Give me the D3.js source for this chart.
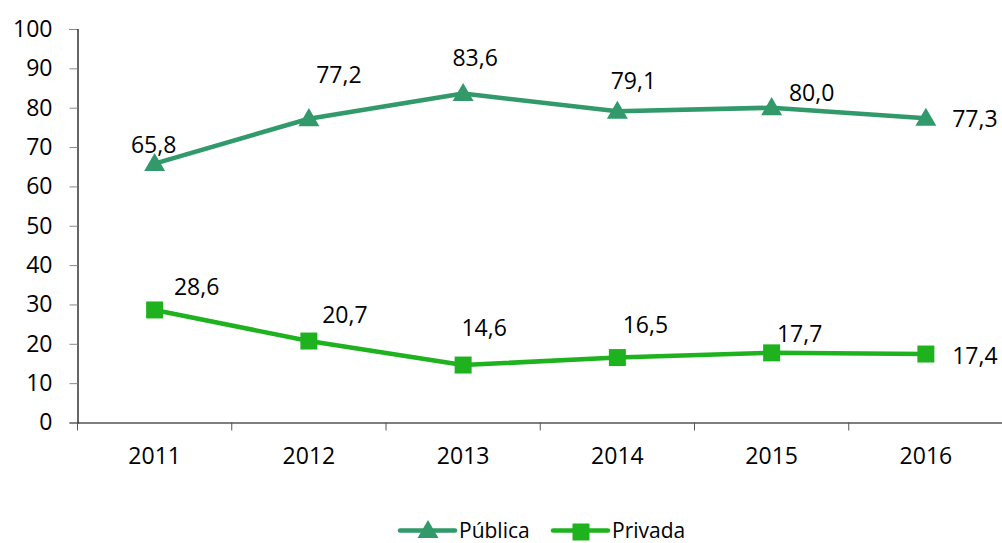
<!DOCTYPE html>
<html>
<head>
<meta charset="utf-8">
<script src="https://cdn.jsdelivr.net/npm/d3@7"></script>
<style>
  html, body { margin: 0; padding: 0; background: #fff; }
  svg { display: block; font-family: "Open Sans", "Liberation Sans", sans-serif; }
</style>
</head>
<body>
<svg id="chart" width="1002" height="543"></svg>
<script>
// Series data
const years = ["2011", "2012", "2013", "2014", "2015", "2016"];
const publica = [65.8, 77.2, 83.6, 79.1, 80.0, 77.3];
const privada = [28.6, 20.7, 14.6, 16.5, 17.7, 17.4];
const yTicks = [0, 10, 20, 30, 40, 50, 60, 70, 80, 90, 100];
const seriesNames = ["Pública", "Privada"];

// Value label offsets (px) relative to each point
const publicaLabelOffset = [[-1, -19], [30, -44], [12, -36], [16, -31], [40, -15], [49, 0]];
const privadaLabelOffset = [[42, -23], [36, -26], [21, -37], [28, -33], [28, -19], [49, 2]];

const colors = { publica: "#31996A", privada: "#1FB21F" };
const FONT = "'Open Sans', 'Liberation Sans', sans-serif";
const FS = 23;

(function () {
const svg = d3.select("#chart");
const plotLeft = 77.5, plotRight = 1003, plotTop = 29, plotBottom = 422.5;

const x = d3.scaleBand().domain(years).range([plotLeft, plotRight]).paddingInner(0).paddingOuter(0);
const y = d3.scaleLinear().domain([0, 100]).range([plotBottom, plotTop]);

const fmt = v => d3.format(".1f")(v).replace(".", ",");

// Y axis
const yAxis = svg.append("g").attr("transform", `translate(${plotLeft},0)`)
  .call(d3.axisLeft(y).tickValues(yTicks).tickSize(8).tickPadding(17));
yAxis.select(".domain").attr("stroke", "#000").attr("stroke-width", 1.2);
yAxis.selectAll(".tick line").attr("stroke", "#888");
yAxis.selectAll(".tick text").attr("font-size", FS).attr("fill", "#000").attr("font-family", FONT);

// X axis
const xAxis = svg.append("g").attr("transform", `translate(0,${plotBottom})`)
  .call(d3.axisBottom(x).tickSize(0).tickPadding(25));
xAxis.select(".domain").attr("stroke", "#000").attr("stroke-width", 1.2);
xAxis.selectAll(".tick text").attr("font-size", FS).attr("fill", "#000").attr("font-family", FONT);
// Category boundary ticks
const bounds = years.map(d => x(d)).concat([x(years[years.length - 1]) + x.bandwidth()]);
svg.append("g").selectAll("line").data(bounds).join("line")
  .attr("x1", d => d).attr("x2", d => d)
  .attr("y1", plotBottom).attr("y2", plotBottom + 8)
  .attr("stroke", "#555").attr("stroke-width", 1);

const cx = i => x(years[i]) + x.bandwidth() / 2;

const line = d3.line().x((d, i) => cx(i)).y(d => y(d));

const tri = d3.symbol().type(d3.symbolTriangle).size(190);
const sq = d3.symbol().type(d3.symbolSquare).size(289);

// Pública
svg.append("path").datum(publica).attr("d", line)
  .attr("fill", "none").attr("stroke", colors.publica).attr("stroke-width", 4.5)
  .attr("stroke-linejoin", "round");
svg.append("g").selectAll("path").data(publica).join("path")
  .attr("d", tri).attr("fill", colors.publica)
  .attr("transform", (d, i) => `translate(${cx(i)},${y(d) + 1.5})`);

// Privada
svg.append("path").datum(privada).attr("d", line)
  .attr("fill", "none").attr("stroke", colors.privada).attr("stroke-width", 4.5)
  .attr("stroke-linejoin", "round");
svg.append("g").selectAll("path").data(privada).join("path")
  .attr("d", sq).attr("fill", colors.privada)
  .attr("transform", (d, i) => `translate(${cx(i)},${y(d)})`);

// Value labels
function labels(data, offsets) {
  svg.append("g").selectAll("text").data(data).join("text")
    .attr("x", (d, i) => cx(i) + offsets[i][0])
    .attr("y", (d, i) => y(d) + offsets[i][1])
    .attr("dy", "0.36em")
    .attr("text-anchor", "middle")
    .attr("font-size", FS).attr("fill", "#000").attr("font-family", FONT)
    .text(d => fmt(d));
}
labels(publica, publicaLabelOffset);
labels(privada, privadaLabelOffset);

// Legend
const legend = svg.append("g");
const legendY = 530.5;
const items = [
  { name: seriesNames[0], color: colors.publica, sym: tri, x0: 400 },
  { name: seriesNames[1], color: colors.privada, sym: sq, x0: 553 }
];
items.forEach(it => {
  legend.append("line").attr("x1", it.x0).attr("x2", it.x0 + 55)
    .attr("y1", legendY).attr("y2", legendY)
    .attr("stroke", it.color).attr("stroke-width", 4.5).attr("stroke-linecap", "round");
  legend.append("path").attr("d", it.sym).attr("fill", it.color)
    .attr("transform", `translate(${it.x0 + 28},${legendY + 1.5})`);
  legend.append("text").attr("x", it.x0 + 59).attr("y", legendY)
    .attr("dy", "0.34em").attr("font-size", 21).attr("fill", "#000").attr("font-family", FONT)
    .text(it.name);
});
})();
</script>
</body>
</html>
